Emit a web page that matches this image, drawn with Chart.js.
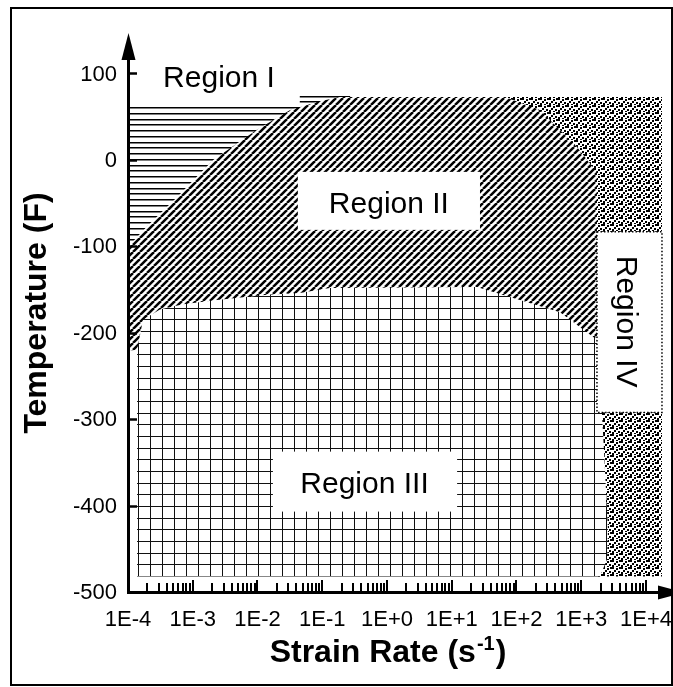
<!DOCTYPE html>
<html>
<head>
<meta charset="utf-8">
<script src="https://cdn.jsdelivr.net/npm/chart.js@4.4.1/dist/chart.umd.min.js"></script>
<style>
html, body { margin: 0; padding: 0; background: #fff; }
canvas { display: block; }
</style>
</head>
<body>
<canvas id="myChart" width="673" height="687"></canvas>
<script>
// outlines of the four regions: strain rate (1/s) and temperature (F)
const region1Rate = [1e-4, 0.045, 0.045, 0.27, 0.27, 1e-4];
const region1Temp = [66, 66, 76, 76, -114, -114];

const region2Rate = [1.07e-4, 1.96e-4, 5.7e-4, 2.06e-3, 9.8e-3, 3.2e-2, 9.2e-2, 0.19, 66, 231, 859, 1750, 1750, 1.38e-4, 1.07e-4];
const region2Temp = [-97, -76, -42, 1, 36, 59, 69, 74, 74, 59, 16, -13, -213, -219, -219];

const region3Rate = [1.38e-4, 1.7e-4, 3.1e-4, 7.1e-4, 2.37e-3, 1.4e-2, 4.5e-2, 0.13, 24.5, 113, 470, 1750, 1950, 2244, 2588, 2500, 1950, 1.38e-4];
const region3Temp = [-219, -184, -172, -166, -161, -155, -153, -147, -146, -161, -175, -207, -253, -334, -427, -461, -481, -481];

const region4Rate = [66, 17660, 17660, 1517, 1517];
const region4Temp = [74, 74, -481, -481, -13];

const regionNames = ["Region I", "Region II", "Region III", "Region IV"];

const xTicks = [1e-4, 1e-3, 1e-2, 1e-1, 1e0, 1e1, 1e2, 1e3, 1e4];
const xTickLabels = ["1E-4", "1E-3", "1E-2", "1E-1", "1E+0", "1E+1", "1E+2", "1E+3", "1E+4"];
const yTicks = [-500, -400, -300, -200, -100, 0, 100];

const FONT = '"Liberation Sans", Arial, sans-serif';
Chart.defaults.font.family = FONT;
Chart.defaults.color = "#000";

const ctx = document.getElementById("myChart").getContext("2d");

function makePattern(w, h, draw, dx, dy) {
    const c = document.createElement("canvas");
    c.width = w;
    c.height = h;
    const g = c.getContext("2d");
    g.fillStyle = "#fff";
    g.fillRect(0, 0, w, h);
    g.fillStyle = "#000";
    g.strokeStyle = "#000";
    draw(g);
    const p = ctx.createPattern(c, "repeat");
    p.setTransform(new DOMMatrix([1, 0, 0, 1, dx, dy]));
    return p;
}

// horizontal lines, diagonal hatch, square grid, stipple
const linesFill = makePattern(8, 23, g => {
    [0, 6, 12, 17].forEach(r => g.fillRect(0, r, 8, 1.5));
}, 0, 15);
const hatchFill = makePattern(7, 7, g => {
    g.lineWidth = 2.5;
    for (const k of [-7, 0, 7]) {
        g.beginPath();
        g.moveTo(k, 7);
        g.lineTo(k + 7, 0);
        g.stroke();
    }
}, 0, 0);
const gridFill = makePattern(12, 35, g => {
    g.fillStyle = "#111";
    g.fillRect(0, 0, 1, 35);
    [0, 12, 23].forEach(r => g.fillRect(0, r, 12, 1));
}, 6, 16);
const dotsFill = makePattern(9, 7, g => {
    [[0, 0, 2, 2], [4, 1, 2, 2], [7, 0, 2, 2], [2, 3, 2, 2], [6, 4, 2, 2], [0, 5, 2, 2], [4, 6, 2, 1]]
        .forEach(([a, b, w, h]) => g.fillRect(a, b, w, h));
}, 0, 0);

function region(label, rates, temps, fill, order) {
    return {
        label: label,
        data: rates.map((r, i) => ({x: r, y: temps[i]})),
        showLine: true,
        fill: "shape",
        backgroundColor: fill,
        borderColor: "rgba(0,0,0,0)",
        borderWidth: 0,
        pointRadius: 0,
        tension: 0,
        order: order
    };
}

const chartArt = {
    id: "chartArt",
    afterDatasetsDraw(chart) {
        const {ctx, scales: {x, y}} = chart;
        const box = (r0, r1, t0, t1, dotted) => {
            const x0 = x.getPixelForValue(r0), x1 = x.getPixelForValue(r1);
            const y0 = y.getPixelForValue(t0), y1 = y.getPixelForValue(t1);
            ctx.fillStyle = "#fff";
            ctx.fillRect(x0, y0, x1 - x0, y1 - y0);
            if (dotted) {
                ctx.save();
                ctx.strokeStyle = "#000";
                ctx.lineWidth = 1.5;
                ctx.setLineDash([1.5, 2]);
                ctx.strokeRect(x0, y0, x1 - x0, y1 - y0);
                ctx.restore();
            }
        };
        ctx.save();
        box(0.042, 27.3, -12.7, -79.8);
        box(0.0173, 12.1, -336.4, -405.8);
        box(1750, 17660, -82, -291, true);

        ctx.fillStyle = "#000";
        ctx.font = "30px " + FONT;
        ctx.textAlign = "center";
        ctx.textBaseline = "alphabetic";
        ctx.fillText(regionNames[0], x.getPixelForValue(2.54e-3), y.getPixelForValue(86));
        ctx.fillText(regionNames[1], x.getPixelForValue(1.07), y.getPixelForValue(-60));
        ctx.fillText(regionNames[2], x.getPixelForValue(0.45), y.getPixelForValue(-384));
        ctx.translate(x.getPixelForValue(3565), y.getPixelForValue(-186));
        ctx.rotate(Math.PI / 2);
        ctx.fillText(regionNames[3], 0, 0);
        ctx.restore();
    },
    afterDraw(chart) {
        const {ctx, chartArea: {left, right, top, bottom}, scales: {x, y}} = chart;
        ctx.save();
        ctx.strokeStyle = "#000";
        ctx.fillStyle = "#000";

        // axis lines
        ctx.lineWidth = 3;
        ctx.beginPath();
        ctx.moveTo(left + 0.5, bottom + 1);
        ctx.lineTo(left + 0.5, top + 25);
        ctx.stroke();
        ctx.beginPath();
        ctx.moveTo(left - 1, bottom - 0.5);
        ctx.lineTo(right - 8, bottom - 0.5);
        ctx.stroke();

        // arrow heads
        ctx.beginPath();
        ctx.moveTo(left + 0.5, top);
        ctx.lineTo(left - 6.5, top + 27);
        ctx.lineTo(left + 7.5, top + 27);
        ctx.closePath();
        ctx.fill();
        ctx.beginPath();
        ctx.moveTo(right + 17, bottom - 0.5);
        ctx.lineTo(right - 10, bottom - 7.5);
        ctx.lineTo(right - 10, bottom + 6.5);
        ctx.closePath();
        ctx.fill();

        // y ticks, pointing inward
        ctx.lineWidth = 2.5;
        yTicks.slice(1).forEach(v => {
            const py = Math.round(y.getPixelForValue(v)) - 0.5;
            ctx.beginPath();
            ctx.moveTo(left + 1, py);
            ctx.lineTo(left + 9, py);
            ctx.stroke();
        });

        // x ticks: decades and 2..9 minors
        ctx.lineWidth = 2;
        xTicks.forEach((d, i) => {
            if (i > 0) {
                const px = Math.round(x.getPixelForValue(d));
                ctx.beginPath();
                ctx.moveTo(px, bottom - 2);
                ctx.lineTo(px, bottom - 13);
                ctx.stroke();
            }
            if (i < xTicks.length - 1) {
                for (let m = 2; m <= 9; m++) {
                    const px = Math.round(x.getPixelForValue(m * d));
                    ctx.beginPath();
                    ctx.moveTo(px, bottom - 2);
                    ctx.lineTo(px, bottom - 10);
                    ctx.stroke();
                }
            }
        });

        // x axis title with superscript
        const cx = x.getPixelForValue(1);
        const base = 662;
        const main = "Strain Rate (s", sup = "-1", close = ")";
        ctx.textAlign = "left";
        ctx.textBaseline = "alphabetic";
        ctx.font = "bold 32px " + FONT;
        const w1 = ctx.measureText(main).width;
        const w3 = ctx.measureText(close).width;
        ctx.font = "bold 20px " + FONT;
        const w2 = ctx.measureText(sup).width;
        let sx = cx - (w1 + w2 + w3) / 2;
        ctx.font = "bold 32px " + FONT;
        ctx.fillText(main, sx, base);
        ctx.font = "bold 20px " + FONT;
        ctx.fillText(sup, sx + w1 + 1, base - 12);
        ctx.font = "bold 32px " + FONT;
        ctx.fillText(close, sx + w1 + w2 + 2, base);

        // frame
        ctx.lineWidth = 2;
        ctx.strokeRect(11, 8, 661, 677);
        ctx.restore();
    }
};

new Chart(ctx, {
    type: "scatter",
    data: {
        datasets: [
            region(regionNames[3], region4Rate, region4Temp, dotsFill, 4),
            region(regionNames[0], region1Rate, region1Temp, linesFill, 3),
            region(regionNames[1], region2Rate, region2Temp, hatchFill, 2),
            region(regionNames[2], region3Rate, region3Temp, gridFill, 1)
        ]
    },
    options: {
        responsive: false,
        animation: false,
        devicePixelRatio: 1,
        events: [],
        layout: {padding: {left: 10, right: 5, top: 33, bottom: 0}},
        plugins: {
            legend: {display: false},
            tooltip: {enabled: false}
        },
        scales: {
            x: {
                type: "logarithmic",
                position: "bottom",
                min: 1e-4,
                max: Math.pow(10, 4.34),
                grid: {display: false, drawTicks: false},
                border: {display: false},
                ticks: {
                    color: "#000",
                    font: {size: 22},
                    padding: 14,
                    maxRotation: 0,
                    autoSkip: false,
                    callback: (v, i) => xTickLabels[i]
                },
                afterBuildTicks: s => { s.ticks = xTicks.map(v => ({value: v})); },
                afterFit: s => { s.height = 94; s.paddingLeft = 0; s.paddingRight = 0; }
            },
            y: {
                type: "linear",
                min: -500,
                max: 148,
                grid: {display: false, drawTicks: false},
                border: {display: false},
                ticks: {
                    color: "#000",
                    font: {size: 22},
                    padding: 11,
                    callback: v => String(v)
                },
                title: {
                    display: true,
                    text: "Temperature (F)",
                    color: "#000",
                    font: {size: 32, weight: "bold"},
                    padding: {top: 8, bottom: 0}
                },
                afterBuildTicks: s => { s.ticks = yTicks.map(v => ({value: v})); },
                afterFit: s => { s.width = 118; s.paddingTop = 0; s.paddingBottom = 0; }
            }
        }
    },
    plugins: [chartArt]
});
</script>
</body>
</html>
